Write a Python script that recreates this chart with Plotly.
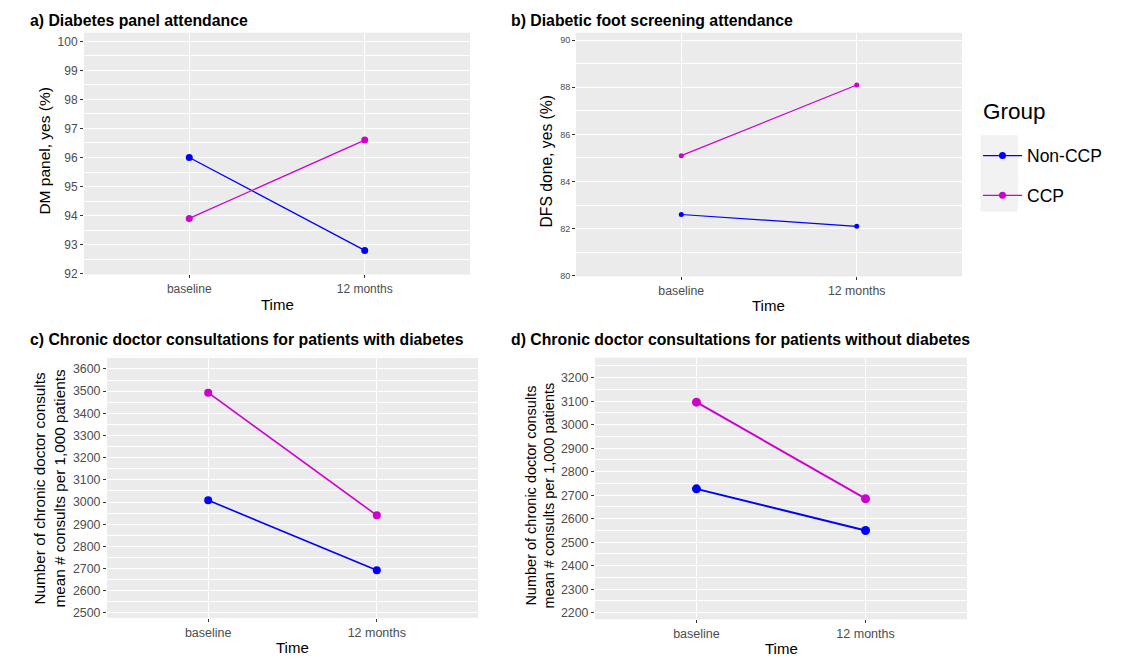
import plotly.graph_objects as go

# ---------------- data ----------------
time_labels = ["baseline", "12 months"]
groups = ["Non-CCP", "CCP"]
group_colors = ["#0000FF", "#CD00CD"]

dm_panel_noncpp = [96.0, 92.8]
dm_panel_ccp = [93.9, 96.6]

dfs_noncpp = [82.6, 82.1]
dfs_ccp = [85.1, 88.1]

cons_dm_noncpp = [3008, 2692]
cons_dm_ccp = [3493, 2940]

cons_nodm_noncpp = [2727, 2550]
cons_nodm_ccp = [3096, 2685]

panel_titles = [
    "a) Diabetes panel attendance",
    "b) Diabetic foot screening attendance",
    "c) Chronic doctor consultations for patients with diabetes",
    "d) Chronic doctor consultations for patients without diabetes",
]
y_titles = [
    "DM panel, yes (%)",
    "DFS done, yes (%)",
    "Number of chronic doctor consults<br>mean # consults per 1,000 patients",
    "Number of chronic doctor consults<br>mean # consults per 1,000 patients",
]

W, H = 1135, 659
FONT = "Liberation Sans, Arial, sans-serif"

def px_x(v):
    return v / W

def px_y(v):
    return 1 - v / H

# panel geometry in pixels: (left, right, top, bottom)
panels = [
    (84, 470, 33, 277),
    (576, 962, 33, 279),
    (107, 478, 360, 623.5),
    (595, 967, 361, 625),
]
yranges = [[91.97, 100.3], [79.97, 90.32], [2478, 3655], [2172, 3285]]
ydticks = [1, 2, 100, 100]
ytick_fs = [12, 9, 12.4, 12.4]
xtick_fs = [12, 12.3, 12.5, 12.5]
msizes = [7, 5, 8, 9]
lwidths = [1.3, 1.2, 1.6, 2.0]

series = [
    (dm_panel_noncpp, dm_panel_ccp),
    (dfs_noncpp, dfs_ccp),
    (cons_dm_noncpp, cons_dm_ccp),
    (cons_nodm_noncpp, cons_nodm_ccp),
]

fig = go.Figure()

for i, (vals_non, vals_ccp) in enumerate(series):
    ax = "" if i == 0 else str(i + 1)
    for g, (vals, name, col) in enumerate(zip((vals_non, vals_ccp), groups, group_colors)):
        fig.add_trace(go.Scatter(
            x=time_labels, y=vals, mode="lines+markers", name=name,
            line=dict(color=col, width=lwidths[i]),
            marker=dict(color=col, size=msizes[i]),
            xaxis="x" + ax, yaxis="y" + ax,
            showlegend=(i == 0), legendgroup=name,
        ))
    l, r, t, b = panels[i]
    fig.layout["xaxis" + ax] = dict(
        domain=[px_x(l), px_x(r)], anchor="y" + ax,
        type="category", range=[-0.6, 1.6],
        showgrid=True, gridcolor="white", gridwidth=1.2,
        ticks="outside", ticklen=3, tickcolor="#333333", tickwidth=1,
        tickfont=dict(family=FONT, size=xtick_fs[i], color="#4D4D4D"),
        showline=False, zeroline=False, fixedrange=True,
    )
    fig.layout["yaxis" + ax] = dict(
        domain=[px_y(b), px_y(t)], anchor="x" + ax,
        range=yranges[i], dtick=ydticks[i], tick0=0,
        showgrid=True, gridcolor="white", gridwidth=1.2,
        minor=dict(dtick=ydticks[i] / 2, tick0=0, showgrid=True,
                   gridcolor="white", gridwidth=0.6, ticks=""),
        ticks="outside", ticklen=3, tickcolor="#333333", tickwidth=1,
        tickfont=dict(family=FONT, size=ytick_fs[i], color="#4D4D4D"),
        showline=False, zeroline=False, fixedrange=True,
    )

annotations = []
# panel titles
title_pos = [(28, 20.5), (509, 20.5), (28, 342.5), (509, 342.5)]
for txt, (x, y) in zip(panel_titles, title_pos):
    annotations.append(dict(
        text="<b>" + txt + "</b>", x=px_x(x), y=px_y(y), xref="paper", yref="paper",
        xanchor="left", yanchor="middle", showarrow=False,
        font=dict(family=FONT, size=15.8, color="black"),
    ))
# x titles
xt_pos = [(277, 307), (768, 308), (292, 653), (781, 654)]
for (x, y) in xt_pos:
    annotations.append(dict(
        text="Time", x=px_x(x), y=px_y(y), xref="paper", yref="paper",
        xanchor="center", yanchor="middle", showarrow=False,
        font=dict(family=FONT, size=15, color="black"),
    ))
# y titles
yt_pos = [(45, 153, 15.5), (547, 163, 15.7), (50, 493, 15.3), (540, 500, 14.5)]
for txt, (x, y, fs) in zip(y_titles, yt_pos):
    annotations.append(dict(
        text=txt, x=px_x(x), y=px_y(y), xref="paper", yref="paper",
        xanchor="center", yanchor="middle", showarrow=False, textangle=-90,
        font=dict(family=FONT, size=fs, color="black"),
    ))
# legend title
annotations.append(dict(
    text="Group", x=px_x(981), y=px_y(113), xref="paper", yref="paper",
    xanchor="left", yanchor="middle", showarrow=False,
    font=dict(family=FONT, size=22.5, color="black"),
))

fig.update_layout(
    width=W, height=H, margin=dict(l=0, r=0, t=0, b=0),
    paper_bgcolor="white", plot_bgcolor="#EBEBEB",
    annotations=annotations,
    shapes=[dict(type="rect", xref="paper", yref="paper",
                 x0=px_x(980.5), x1=px_x(1018), y0=px_y(213.5), y1=px_y(136.5),
                 fillcolor="#F2F2F2", line=dict(width=0), layer="below")],
    legend=dict(
        x=px_x(978), y=px_y(139), xanchor="left", yanchor="top",
        font=dict(family=FONT, size=17.5, color="black"),
        bgcolor="rgba(0,0,0,0)", tracegroupgap=14, itemwidth=39,
    ),
)

fig.write_html("out.html")
